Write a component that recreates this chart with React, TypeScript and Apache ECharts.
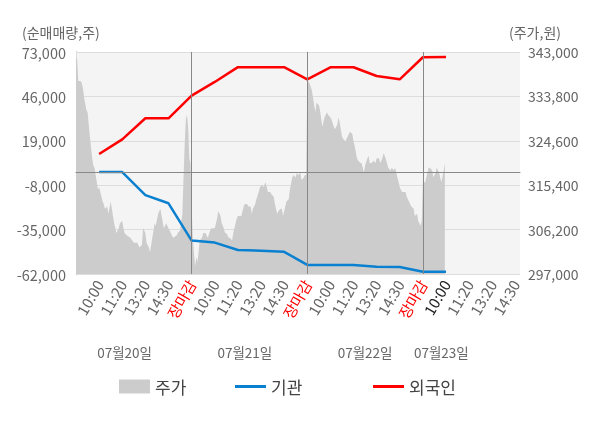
import React, { useEffect, useRef } from 'react';
import * as echarts from 'echarts';

// x positions (index units along the trading-time axis)
const labelIdx = [20, 40, 60, 80, 100, 120, 140, 160, 180, 200, 220, 240, 260, 280, 300, 320, 340, 360, 380];
const tickLabels = ['10:00', '11:20', '13:20', '14:30', '장마감', '10:00', '11:20', '13:20', '14:30', '장마감', '10:00', '11:20', '13:20', '14:30', '장마감', '10:00', '11:20', '13:20', '14:30'];
const currentLabel = 15;
const dayBreaks = [100, 200, 300];
const dateIdx = [42, 146, 250, 316];
const dateLabels = ['07월20일', '07월21일', '07월22일', '07월23일'];
const leftTitle = '(순매매량,주)';
const rightTitle = '(주가,원)';

// 기관 / 외국인 cumulative net buying (shares)
const flowIdx = [20, 40, 60, 80, 100, 120, 140, 160, 180, 200, 220, 240, 260, 280, 300, 320];
const foreign = [11000, 19900, 32700, 32700, 46500, 54800, 63800, 63800, 63800, 56400, 63700, 63700, 58400, 56400, 69800, 70000];
const institution = [0, 0, -14000, -19000, -41700, -42900, -47400, -47800, -48500, -56500, -56500, -56500, -57600, -57800, -60600, -60600];

// 주가 (won), [index, price]
const priceDay1 = [[0, 342000], [1, 341500], [2, 337000], [4, 337000], [5, 336500], [6, 335500], [7, 333500], [9, 331000], [10, 330500], [11, 328000], [12, 325500], [14, 321000], [15, 319500], [16, 319000], [18, 316000], [19, 314500], [20, 315000], [21, 314000], [23, 312000], [24, 311500], [25, 310500], [27, 311000], [28, 309500], [30, 312000], [32, 309000], [33, 307500], [35, 305500], [37, 306500], [38, 307500], [40, 308000], [41, 306500], [42, 305500], [44, 305000], [47, 304500], [50, 303500], [53, 303500], [55, 302500], [57, 303000], [58, 306500], [60, 305500], [61, 303500], [63, 302500], [64, 301500], [66, 304500], [68, 307500], [69, 307000], [71, 309500], [73, 310500], [74, 309000], [76, 306500], [77, 307000], [78, 307500], [80, 306500], [81, 306000], [83, 305000], [84, 304500], [87, 305000], [88, 305500], [90, 306000], [92, 309500], [93, 317000], [94, 324000], [95, 329000], [96, 330000], [97, 327500], [98, 321000], [99, 320000], [100, 311000]];
const priceDay2 = [[101, 304500], [102, 301500], [103, 298500], [104, 300500], [105, 299500], [106, 301500], [107, 304000], [109, 304500], [110, 305500], [112, 305500], [113, 305000], [114, 304500], [116, 306000], [117, 306500], [120, 306500], [122, 308500], [123, 310000], [125, 309000], [126, 307500], [127, 307000], [129, 305500], [130, 305500], [132, 304500], [133, 304500], [135, 304000], [136, 305500], [138, 307500], [139, 308500], [140, 309000], [143, 309000], [145, 311000], [146, 311500], [148, 311500], [149, 311000], [151, 311000], [152, 309500], [153, 310500], [155, 311500], [156, 312500], [158, 314000], [159, 315000], [161, 315500], [162, 315000], [164, 316000], [165, 315000], [166, 314000], [168, 314000], [169, 313500], [171, 313000], [172, 311500], [174, 309500], [175, 310000], [177, 310500], [178, 310500], [179, 309000], [181, 311000], [182, 312000], [184, 312500], [185, 314500], [187, 317000], [188, 317500], [190, 317000], [191, 318000], [192, 317500], [194, 318000], [195, 316500], [197, 317000], [198, 317500], [199, 317500]];
const priceDay3 = [[200, 335000], [201, 337000], [202, 336500], [204, 335000], [205, 333500], [207, 330500], [208, 332500], [210, 332000], [211, 331000], [213, 327500], [214, 328500], [215, 329500], [217, 330500], [218, 330000], [220, 329500], [221, 329000], [223, 327500], [224, 327000], [226, 328000], [227, 329500], [228, 328500], [230, 325500], [231, 325000], [233, 324500], [234, 325000], [236, 326000], [237, 326500], [239, 326000], [240, 324500], [241, 323500], [243, 321000], [244, 320500], [246, 320000], [247, 320000], [249, 318000], [250, 319500], [252, 321000], [253, 321500], [254, 320000], [256, 320000], [257, 320500], [259, 320000], [260, 321000], [262, 321000], [263, 320000], [265, 321000], [266, 322000], [267, 321500], [269, 320000], [270, 319000], [272, 318500], [273, 319000], [275, 318500], [276, 319000], [278, 317000], [279, 316000], [280, 315000], [282, 314000], [283, 314000], [285, 314000], [286, 313000], [288, 312000], [289, 311500], [290, 311000], [292, 310500], [293, 309000], [295, 309500], [296, 308000], [298, 307000], [299, 308000]];
const priceDay4 = [[300, 316000], [302, 316000], [303, 317000], [305, 319000], [306, 319000], [308, 318500], [309, 317000], [311, 318000], [312, 319000], [314, 318000], [315, 317000], [316, 316000], [318, 318500], [319, 320000]];

const FONT = "'Noto Sans CJK KR', 'Noto Sans', sans-serif";

export default function App() {
  const ref = useRef<HTMLDivElement>(null);
  useEffect(() => {
    const chart = echarts.init(ref.current as HTMLDivElement, null, { renderer: 'svg' });
    const price = [...priceDay1, ...priceDay2, ...priceDay3, ...priceDay4];
    const fmt = (v: number) => v.toLocaleString('en-US');
    const legendText = { fontSize: 17, color: '#444', fontFamily: FONT };
    chart.setOption({
      animation: false,
      textStyle: { fontFamily: FONT },
      grid: { left: 76, right: 80, top: 52, bottom: 154, show: true, backgroundColor: '#f4f4f4', borderWidth: 0 },
      graphic: [
        { type: 'text', left: 22, top: 25, style: { text: leftTitle, fontSize: 14, fill: '#666', fontFamily: FONT } },
        { type: 'text', left: 509, top: 25, style: { text: rightTitle, fontSize: 14, fill: '#666', fontFamily: FONT } },
      ],
      legend: [
        { data: [{ name: '주가', icon: 'rect' }], left: 114, top: 373, itemWidth: 31, itemHeight: 14, textStyle: legendText },
        { data: [{ name: '기관', icon: 'rect' }], left: 230, top: 373, itemWidth: 31, itemHeight: 3, textStyle: legendText },
        { data: [{ name: '외국인', icon: 'rect' }], left: 368, top: 373, itemWidth: 31, itemHeight: 3, textStyle: legendText },
      ],
      xAxis: [
        {
          type: 'value', min: 0, max: 384,
          axisLine: { show: true, lineStyle: { color: '#888' } },
          axisTick: { show: true, customValues: [0, ...dayBreaks], length: 5, lineStyle: { color: '#888' } },
          splitLine: { show: false },
          axisLabel: {
            customValues: labelIdx, rotate: 60, fontSize: 15, color: '#666', margin: 7, fontFamily: FONT,
            formatter: (v: number) => {
              const i = labelIdx.indexOf(v);
              const t = tickLabels[i];
              if (t === '장마감') return '{r|' + t + '}';
              if (i === currentLabel) return '{d|' + t + '}';
              return t;
            },
            rich: {
              r: { color: '#ff0000', fontSize: 15, fontFamily: FONT },
              d: { color: '#222', fontSize: 15, fontFamily: FONT },
            },
          },
        },
        {
          type: 'value', min: 0, max: 384, position: 'bottom', offset: 63,
          axisLine: { show: false }, axisTick: { show: false }, splitLine: { show: false },
          axisLabel: {
            customValues: dateIdx, fontSize: 13.5, color: '#666', margin: 8, fontFamily: FONT,
            formatter: (v: number) => dateLabels[dateIdx.indexOf(v)],
          },
        },
      ],
      yAxis: [
        {
          type: 'value', min: -62000, max: 73000, interval: 27000,
          axisLine: { show: true, lineStyle: { color: '#888' } },
          axisTick: { show: false },
          splitLine: { show: true, lineStyle: { color: '#dddddd' } },
          axisLabel: { fontSize: 14.5, color: '#666', margin: 10, formatter: fmt, fontFamily: FONT },
        },
        {
          type: 'value', min: 297000, max: 343000, interval: 9200, position: 'right',
          axisLine: { show: true, lineStyle: { color: '#dddddd' } },
          axisTick: { show: false },
          splitLine: { show: false },
          axisLabel: { fontSize: 14, color: '#666', margin: 8, formatter: fmt, fontFamily: FONT },
        },
      ],
      series: [
        {
          name: '주가', type: 'line', xAxisIndex: 0, yAxisIndex: 1, data: price,
          symbol: 'none', color: '#cccccc',
          lineStyle: { width: 0, color: '#cccccc' },
          areaStyle: { color: '#cccccc', opacity: 1, origin: 'start' },
          itemStyle: { color: '#cccccc' },
          markLine: {
            silent: true, symbol: 'none', label: { show: false },
            lineStyle: { color: '#888', type: 'solid', width: 1 },
            data: dayBreaks.map((d) => ({ xAxis: d })),
          },
        },
        {
          name: '기관', type: 'line', xAxisIndex: 0, yAxisIndex: 0,
          data: flowIdx.map((x, i) => [x, institution[i]]),
          symbol: 'none', color: '#0a80d0',
          lineStyle: { width: 2.5, color: '#0a80d0' },
          markLine: {
            silent: true, symbol: 'none', label: { show: false },
            lineStyle: { color: '#888', type: 'solid', width: 1 },
            data: [{ yAxis: 0 }],
          },
          z: 3,
        },
        {
          name: '외국인', type: 'line', xAxisIndex: 0, yAxisIndex: 0,
          data: flowIdx.map((x, i) => [x, foreign[i]]),
          symbol: 'none', color: '#ff0000',
          lineStyle: { width: 2.5, color: '#ff0000' },
          z: 4,
        },
      ],
    });
    return () => chart.dispose();
  }, []);
  return <div ref={ref} style={{ position: 'fixed', left: 0, top: 0, width: 600, height: 428 }} />;
}
